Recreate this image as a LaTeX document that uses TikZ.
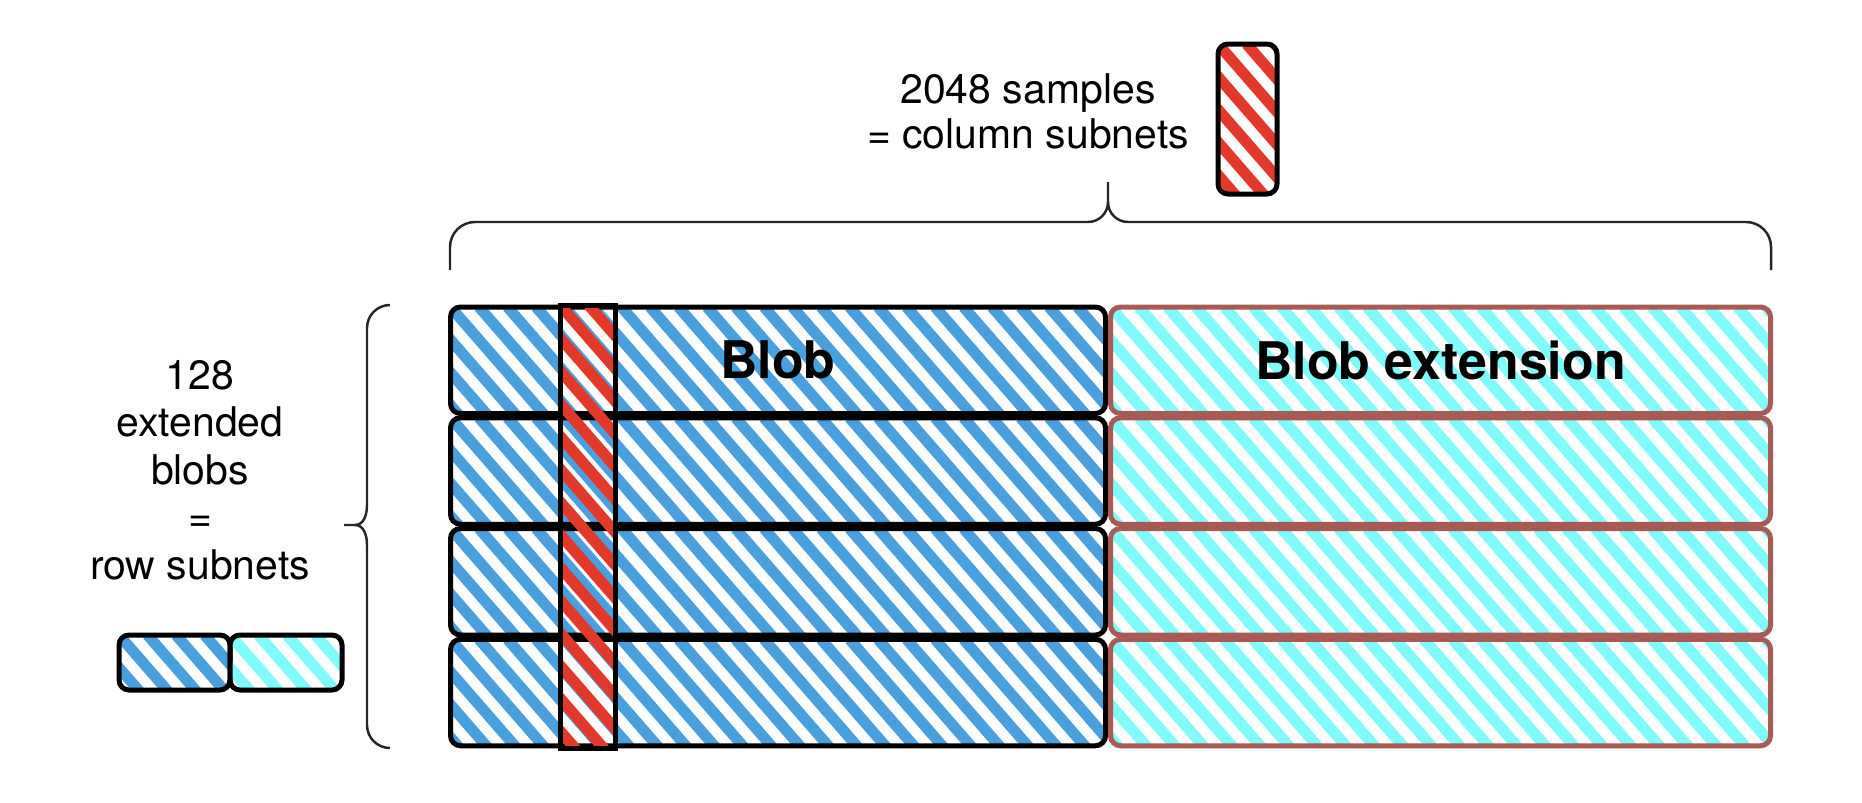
\documentclass[tikz,border=0pt]{standalone}
\usepackage{fontspec}
\setmainfont{TeX Gyre Heros}
\usepackage{tikz}

\definecolor{blobblue}{HTML}{4A9FDF}
\definecolor{extcyan}{HTML}{80FAFA}
\definecolor{colred}{HTML}{E2392B}
\definecolor{extborder}{HTML}{A85A54}

\tikzset{
  hatched/.style={path picture={
      \foreach \k in {-16,...,24}
        \draw[line width=0.22cm, #1] ([xshift=\k*0.57cm]path picture bounding box.north west) -- ++(8.7cm,-10cm);
  }},
  blobrow/.style={draw, line width=0.1cm, rounded corners=0.2cm, inner sep=0,
    minimum width=13.1cm, minimum height=2.13cm, hatched=blobblue},
  extrow/.style={draw=extborder, line width=0.1cm, rounded corners=0.2cm, inner sep=0,
    minimum width=13.2cm, minimum height=2.13cm, hatched=extcyan},
  brace/.style={line width=1.4pt, draw=black!85},
  plaintext/.style={align=center, font=\fontsize{23.3}{25.5}\selectfont},
  boldtext/.style={font=\fontsize{29.5}{32}\selectfont\bfseries}
}

\begin{document}
\begin{tikzpicture}
  \useasboundingbox (0,0) rectangle (37.24,-16.04);

  % rows of the blob and of its extension
  \foreach \i in {1,...,4} {
    \node[blobrow] (Blob\i) at (15.56,{-4.99-2.215*\i}) {};
    \node[extrow] (Ext\i) at (28.81,{-4.99-2.215*\i}) {};
  }
  \node[draw, line width=0.1cm, inner sep=0, minimum width=1.1cm, minimum height=8.86cm,
    hatched=colred] (Column) at (11.75,-10.53) {};

  \node[boldtext] (BlobLabel) at (Blob1) {Blob};
  \node[boldtext] (ExtLabel) at (Ext1) {Blob extension};

  % column subnet
  \node[plaintext] (Samples) at (20.56,-2.22) {2048 samples\\= column subnets};
  \node[draw, line width=0.1cm, rounded corners=0.2cm, inner sep=0, minimum width=1.18cm,
    minimum height=3cm, hatched=colred] (Sample) at (24.95,-2.38) {};
  \draw[brace] (9.0,-5.4) -- (9.0,-4.94) to[out=90,in=180] (9.5,-4.44) -- (21.76,-4.44)
    to[out=0,in=-90] (22.16,-4.04) -- (22.16,-3.64);
  \draw[brace] (22.16,-4.04) to[out=-90,in=180] (22.56,-4.44) -- (34.92,-4.44)
    to[out=0,in=90] (35.42,-4.94) -- (35.42,-5.4);

  % row subnet
  \node[plaintext, font=\fontsize{23.3}{27}\selectfont] (RowCount) at (4.0,-9.4)
    {128\\extended\\blobs\\=\\row subnets};
  \node[blobrow, minimum width=2.22cm, minimum height=1.1cm] (LegendBlob) at (3.49,-13.25) {};
  \node[blobrow, draw=black, minimum width=2.24cm, minimum height=1.1cm, hatched=extcyan]
    (LegendExt) at (5.72,-13.25) {};
  \draw[brace] (7.8,-6.1) to[out=180,in=90] (7.34,-6.56) -- (7.34,-10.1)
    to[out=-90,in=0] (7.1,-10.5) -- (6.88,-10.5);
  \draw[brace] (7.1,-10.5) to[out=0,in=90] (7.34,-10.9) -- (7.34,-14.5)
    to[out=-90,in=180] (7.8,-14.96);
\end{tikzpicture}
\end{document}
